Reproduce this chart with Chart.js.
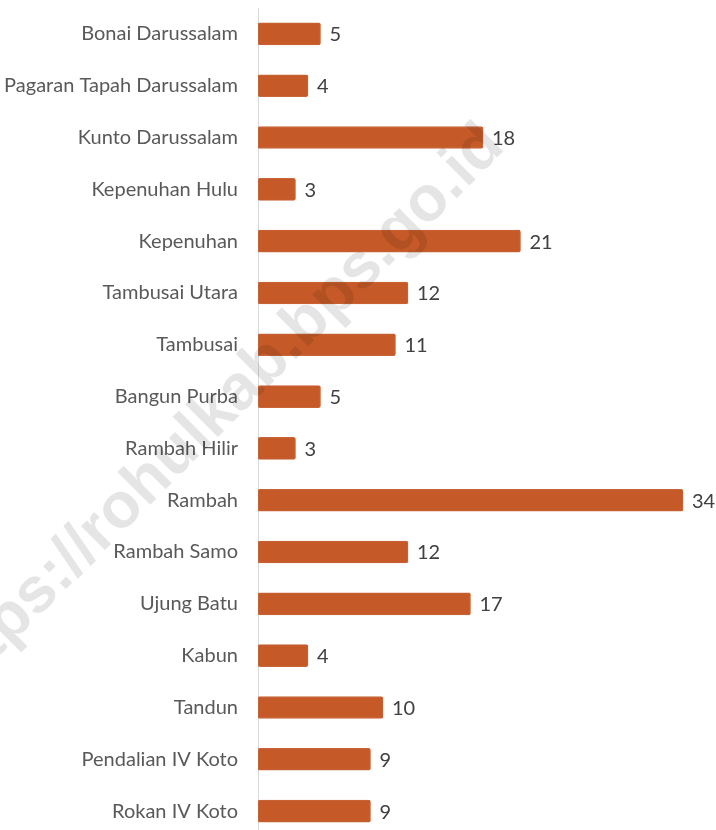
<!DOCTYPE html>
<html>
<head>
<meta charset="utf-8">
<script src="https://cdn.jsdelivr.net/npm/chart.js@4.4.1/dist/chart.umd.min.js"></script>
<style>
  html, body { margin: 0; padding: 0; background: #ffffff; overflow: hidden; }
  #wrap { position: relative; width: 716px; height: 893px; margin-top: -24px; }
</style>
</head>
<body>
<div id="wrap"><canvas id="c"></canvas></div>
<script>
const categories = [
  "Bonai Darussalam",
  "Pagaran Tapah Darussalam",
  "Kunto Darussalam",
  "Kepenuhan Hulu",
  "Kepenuhan",
  "Tambusai Utara",
  "Tambusai",
  "Bangun Purba",
  "Rambah Hilir",
  "Rambah",
  "Rambah Samo",
  "Ujung Batu",
  "Kabun",
  "Tandun",
  "Pendalian IV Koto",
  "Rokan IV Koto"
];
const values = [5, 4, 18, 3, 21, 12, 11, 5, 3, 34, 12, 17, 4, 10, 9, 9];
const watermarkText = "https://rohulkab.bps.go.id";

const valueLabels = {
  id: 'valueLabels',
  afterDatasetsDraw(chart) {
    const ctx = chart.ctx;
    const meta = chart.getDatasetMeta(0);
    ctx.save();
    ctx.font = '20px Lato, "Open Sans", sans-serif';
    ctx.fillStyle = '#404040';
    ctx.textAlign = 'left';
    ctx.textBaseline = 'middle';
    meta.data.forEach((bar, i) => {
      ctx.fillText(String(values[i]), bar.x + 9, bar.y + 1);
    });
    ctx.restore();
  }
};

const watermark = {
  id: 'watermark',
  afterDraw(chart) {
    const ctx = chart.ctx;
    ctx.save();
    ctx.translate(494, 24 + 136);
    ctx.rotate(-Math.PI / 4);
    ctx.font = 'bold 64px "Liberation Sans", Arial, sans-serif';
    ctx.fillStyle = 'rgba(0,0,0,0.10)';
    ctx.textAlign = 'right';
    ctx.textBaseline = 'middle';
    ctx.fillText(watermarkText, 0, 0);
    ctx.restore();
  }
};

new Chart(document.getElementById('c'), {
  type: 'bar',
  data: {
    labels: categories,
    datasets: [{
      data: values,
      backgroundColor: '#C55A28',
      borderColor: '#C8663A',
      borderWidth: 1,
      borderRadius: 2,
      borderSkipped: false,
      barThickness: 22
    }]
  },
  options: {
    indexAxis: 'y',
    responsive: true,
    maintainAspectRatio: false,
    animation: false,
    layout: { padding: { top: 6, bottom: 7, right: 8, left: 0 } },
    plugins: {
      legend: { display: false },
      tooltip: { enabled: false }
    },
    scales: {
      x: {
        display: false,
        min: 0,
        max: 36
      },
      y: {
        grid: { display: false, drawTicks: false },
        border: { display: true, color: '#d9d9d9', width: 1 },
        ticks: {
          color: '#595959',
          font: { family: 'Lato, "Open Sans", sans-serif', size: 20 },
          padding: 20,
          autoSkip: false
        },
        afterFit(scale) { scale.width = 258; }
      }
    }
  },
  plugins: [valueLabels, watermark]
});
</script>
</body>
</html>
